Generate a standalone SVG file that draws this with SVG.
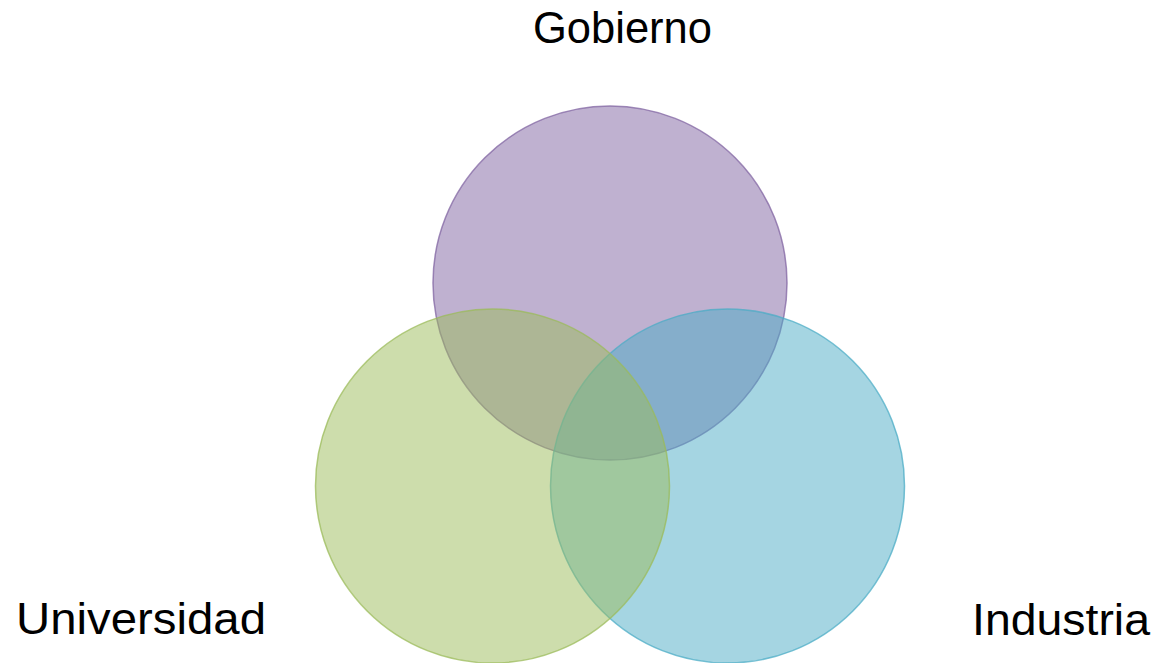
<svg xmlns="http://www.w3.org/2000/svg" width="1157" height="663" viewBox="0 0 1157 663">
  <style>
    .lbl { font-family: "Liberation Sans", Arial, sans-serif; font-size: 45px; fill: #000000; }
    .c { fill-opacity: 0.5; stroke-width: 1.5; stroke-opacity: 0.75; }
  </style>
  <rect x="0" y="0" width="1157" height="663" fill="#ffffff"/>
  <g id="gobierno">
    <circle class="c" cx="610" cy="283" r="177" fill="#8064a2" stroke="#8064a2"/>
    <text class="lbl" x="533" y="43" textLength="179" lengthAdjust="spacingAndGlyphs">Gobierno</text>
  </g>
  <g id="industria">
    <circle class="c" cx="727.5" cy="486" r="177" fill="#4bacc6" stroke="#4bacc6"/>
    <text class="lbl" x="972" y="635" textLength="178" lengthAdjust="spacingAndGlyphs">Industria</text>
  </g>
  <g id="universidad">
    <circle class="c" cx="492.5" cy="486" r="177" fill="#9bbb59" stroke="#9bbb59"/>
    <text class="lbl" x="16" y="634" textLength="250" lengthAdjust="spacingAndGlyphs">Universidad</text>
  </g>
  <g id="connectors"></g>
</svg>
